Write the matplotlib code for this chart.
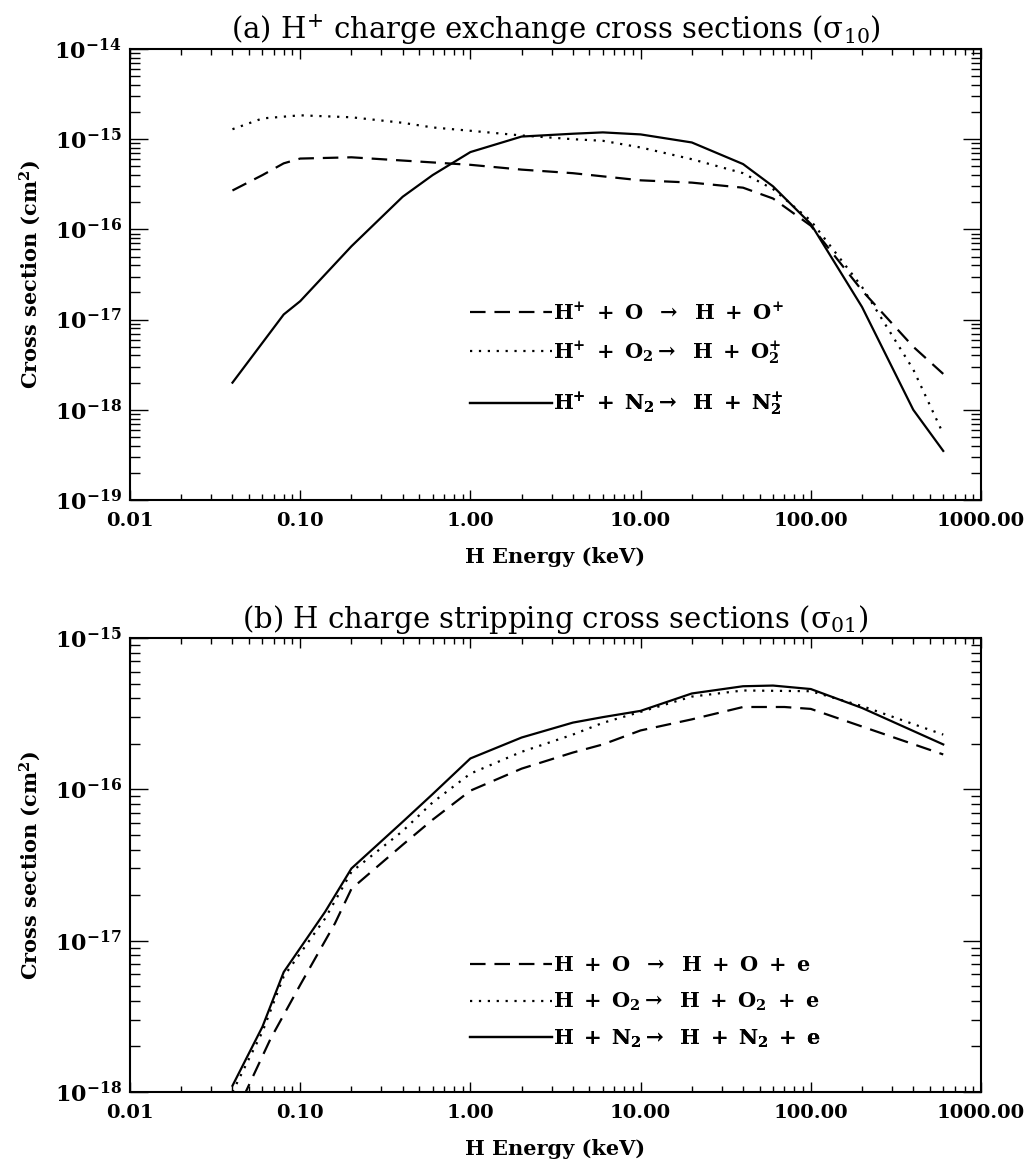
import matplotlib
matplotlib.use("Agg")
import matplotlib.pyplot as plt
from matplotlib.ticker import LogLocator, NullFormatter

plt.rcParams['font.family'] = ['DejaVu Serif']
plt.rcParams['mathtext.fontset'] = 'dejavuserif'

# ---------------- data: panel (a) charge exchange ----------------
a_O_E   = [0.04, 0.06, 0.08, 0.1, 0.2, 0.4, 1, 2, 4, 10, 20, 40, 60, 100, 200, 400, 600]
a_O_sig = [2.7e-16, 4.0e-16, 5.4e-16, 6.1e-16, 6.3e-16, 5.8e-16, 5.2e-16, 4.6e-16, 4.2e-16,
           3.5e-16, 3.3e-16, 2.9e-16, 2.2e-16, 1.1e-16, 2.1e-17, 5.0e-18, 2.5e-18]

a_O2_E   = [0.04, 0.06, 0.1, 0.2, 0.4, 0.6, 1, 2, 4, 6, 10, 20, 40, 60, 100, 200, 400, 600]
a_O2_sig = [1.29e-15, 1.7e-15, 1.84e-15, 1.75e-15, 1.52e-15, 1.35e-15, 1.24e-15, 1.1e-15, 1.0e-15,
            9.6e-16, 8.1e-16, 6.0e-16, 4.2e-16, 2.8e-16, 1.25e-16, 2.3e-17, 2.8e-18, 5.4e-19]

a_N2_E   = [0.04, 0.08, 0.1, 0.2, 0.4, 0.6, 1, 2, 4, 6, 10, 20, 40, 60, 100, 200, 400, 600]
a_N2_sig = [2.0e-18, 1.14e-17, 1.6e-17, 6.5e-17, 2.3e-16, 4.0e-16, 7.2e-16, 1.07e-15, 1.15e-15,
            1.19e-15, 1.13e-15, 9.2e-16, 5.3e-16, 3.0e-16, 1.15e-16, 1.38e-17, 1.0e-18, 3.5e-19]

# ---------------- data: panel (b) charge stripping ----------------
b_O_E   = [0.04, 0.067, 0.1, 0.16, 0.2, 0.4, 0.6, 1, 2, 4, 6, 10, 20, 40, 70, 100, 200, 600]
b_O_sig = [6.5e-19, 2.25e-18, 5.1e-18, 1.3e-17, 2.2e-17, 4.3e-17, 6.3e-17, 9.8e-17, 1.37e-16,
           1.75e-16, 1.98e-16, 2.45e-16, 2.9e-16, 3.5e-16, 3.5e-16, 3.4e-16, 2.6e-16, 1.7e-16]

b_O2_E   = [0.04, 0.06, 0.08, 0.14, 0.2, 0.4, 0.6, 1, 2, 4, 6, 10, 20, 40, 100, 200, 600]
b_O2_sig = [1.0e-18, 2.5e-18, 5.8e-18, 1.4e-17, 2.85e-17, 5.3e-17, 8.2e-17, 1.27e-16, 1.77e-16,
            2.3e-16, 2.75e-16, 3.25e-16, 4.1e-16, 4.5e-16, 4.45e-16, 3.55e-16, 2.3e-16]

b_N2_E   = [0.04, 0.06, 0.08, 0.14, 0.2, 0.4, 0.6, 1, 2, 4, 6, 10, 20, 40, 60, 100, 200, 600]
b_N2_sig = [1.1e-18, 2.7e-18, 6.2e-18, 1.55e-17, 3.0e-17, 6.1e-17, 9.3e-17, 1.6e-16, 2.2e-16,
            2.76e-16, 3.0e-16, 3.3e-16, 4.3e-16, 4.8e-16, 4.85e-16, 4.6e-16, 3.45e-16, 1.98e-16]

xtick_vals = [0.01, 0.1, 1, 10, 100, 1000]
xtick_labels = ['0.01', '0.10', '1.00', '10.00', '100.00', '1000.00']
a_yexp = [-19, -18, -17, -16, -15, -14]
b_yexp = [-18, -17, -16, -15]

title_a = r'(a) H$^{+}$ charge exchange cross sections (σ$_{10}$)'
title_b = r'(b) H charge stripping cross sections (σ$_{01}$)'
xlabel = 'H Energy (keV)'
ylabel = r'Cross section (cm$^{\mathbf{2}}$)'

labels_a = [r'$\mathbf{H^{+}\ +\ O\ \ \rightarrow\ \ H\ +\ O^{+}}$',
            r'$\mathbf{H^{+}\ +\ O_{2}\rightarrow\ \ H\ +\ O_{2}^{+}}$',
            r'$\mathbf{H^{+}\ +\ N_{2}\rightarrow\ \ H\ +\ N_{2}^{+}}$']
labels_b = [r'$\mathbf{H\ +\ O\ \ \rightarrow\ \ H\ +\ O\ +\ e}$',
            r'$\mathbf{H\ +\ O_{2}\rightarrow\ \ H\ +\ O_{2}\ +\ e}$',
            r'$\mathbf{H\ +\ N_{2}\rightarrow\ \ H\ +\ N_{2}\ +\ e}$']

W, H = 1031, 1166
fig = plt.figure(figsize=(W / 100, H / 100), dpi=100)

def px_axes(left, top, right, bottom):
    return fig.add_axes([left / W, 1 - bottom / H, (right - left) / W, (bottom - top) / H])

axa = px_axes(130, 49, 981, 500)
axb = px_axes(130, 638, 981, 1092)

LW = 1.6
styles = [dict(ls=(0, (7, 4))), dict(ls=(0, (1, 3))), dict(ls='-')]

def style_axes(ax, yexp, title):
    ax.set_xscale('log')
    ax.set_yscale('log')
    ax.set_xlim(0.01, 1000)
    ax.set_ylim(10.0 ** yexp[0], 10.0 ** yexp[-1])
    ax.set_xticks(xtick_vals, labels=xtick_labels)
    ax.set_yticks([10.0 ** e for e in yexp],
                  labels=[r'$\mathbf{10^{%d}}$' % e for e in yexp])
    ax.xaxis.set_minor_locator(LogLocator(base=10, subs=range(2, 10), numticks=20))
    ax.yaxis.set_minor_locator(LogLocator(base=10, subs=range(2, 10), numticks=20))
    ax.xaxis.set_minor_formatter(NullFormatter())
    ax.yaxis.set_minor_formatter(NullFormatter())
    ax.tick_params(which='both', direction='in', top=True, right=True, width=1.0, colors='black')
    ax.tick_params(axis='x', which='major', length=7, pad=9)
    ax.tick_params(axis='x', which='minor', length=4)
    ax.tick_params(axis='y', which='major', length=13, pad=6)
    ax.tick_params(axis='y', which='minor', length=7)
    for lab in ax.get_xticklabels():
        lab.set_fontweight('bold')
        lab.set_fontsize(14)
    for lab in ax.get_yticklabels():
        lab.set_fontsize(16)
    for sp in ax.spines.values():
        sp.set_linewidth(1.5)
    ax.set_xlabel(xlabel, fontsize=15, fontweight='bold', labelpad=12)
    ax.set_ylabel(ylabel, fontsize=15, fontweight='bold', labelpad=8)
    ax.set_title(title, fontsize=21, pad=7)

def add_legends(ax, lines, labels, ys):
    for ln, lab, y in zip(lines, labels, ys):
        lg = ax.legend([ln], [lab], loc='center left', bbox_to_anchor=(0.40, y),
                       frameon=False, fontsize=15, handlelength=3.9, handletextpad=0.05,
                       borderpad=0, borderaxespad=0)
        ax.add_artist(lg)

la = []
for E, s, st in zip([a_O_E, a_O2_E, a_N2_E], [a_O_sig, a_O2_sig, a_N2_sig], styles):
    la.append(axa.plot(E, s, color='black', lw=LW, **st)[0])
style_axes(axa, a_yexp, title_a)
add_legends(axa, la, labels_a, [0.415, 0.326, 0.211])

lb = []
for E, s, st in zip([b_O_E, b_O2_E, b_N2_E], [b_O_sig, b_O2_sig, b_N2_sig], styles):
    lb.append(axb.plot(E, s, color='black', lw=LW, **st)[0])
style_axes(axb, b_yexp, title_b)
add_legends(axb, lb, labels_b, [0.278, 0.198, 0.117])

fig.savefig('out.png', dpi=100)
